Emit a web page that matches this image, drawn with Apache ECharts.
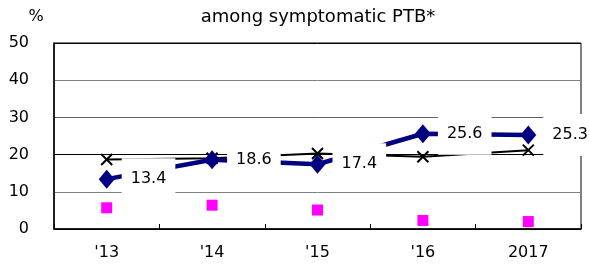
<!DOCTYPE html>
<html>
<head>
<meta charset="utf-8">
<script src="https://cdn.jsdelivr.net/npm/echarts@6/dist/echarts.min.js"></script>
<style>
  html, body { margin: 0; padding: 0; background: #fff; }
  #chart { width: 589px; height: 264px; }
</style>
</head>
<body>
<div id="chart"></div>
<script>
var years = ["'13", "'14", "'15", "'16", "2017"];
var diamondVals = [13.4, 18.6, 17.4, 25.6, 25.3];
var crossVals = [18.7, 19.0, 20.3, 19.4, 21.2];
var squareVals = [5.7, 6.4, 5.1, 2.3, 2.0];

var font = 'DejaVu Sans';
var chart = echarts.init(document.getElementById('chart'));

var option = {
    animation: false,
    backgroundColor: '#fff',
    textStyle: { fontFamily: font },
    grid: {
        left: 54, right: 8, top: 43, bottom: 35,
        show: true, borderColor: '#000', borderWidth: 1
    },
    graphic: [
        {
            type: 'text', x: 318, y: 17,
            style: { text: 'among symptomatic PTB*', font: '18px "DejaVu Sans"', fill: '#000', align: 'center', verticalAlign: 'middle' }
        },
        {
            type: 'text', x: 36, y: 17,
            style: { text: '%', font: '16px "DejaVu Sans"', fill: '#000', align: 'center', verticalAlign: 'middle' }
        }
    ],
    xAxis: {
        type: 'category',
        data: years,
        boundaryGap: true,
        axisLine: { lineStyle: { color: '#000', width: 1.5 } },
        axisTick: { show: true, inside: true, length: 5, lineStyle: { color: '#000' } },
        axisLabel: { color: '#000', fontSize: 16, margin: 16, fontFamily: font }
    },
    yAxis: {
        type: 'value',
        min: 0, max: 50, interval: 10,
        axisLine: { show: true, lineStyle: { color: '#000', width: 1.5 } },
        axisTick: { show: false },
        axisLabel: { color: '#000', fontSize: 16, margin: 25, fontFamily: font },
        splitLine: { lineStyle: { color: ['#000', '#808080', '#000', '#606060', '#808080', '#000'], width: 1 } }
    },
    series: [
        {
            name: 'cross',
            type: 'line',
            data: crossVals,
            z: 2,
            symbol: 'path://M0,0L10,10M10,0L0,10',
            symbolSize: 11,
            itemStyle: { color: 'none', borderColor: '#000', borderWidth: 2 },
            lineStyle: { color: '#000', width: 2 }
        },
        {
            name: 'square',
            type: 'scatter',
            data: squareVals,
            z: 2,
            symbol: 'rect',
            symbolSize: 11,
            itemStyle: { color: '#ff00ff', opacity: 1 }
        },
        {
            name: 'diamond',
            type: 'line',
            data: diamondVals,
            z: 3,
            symbol: 'diamond',
            symbolSize: [16, 19],
            itemStyle: { color: '#000080' },
            lineStyle: { color: '#000080', width: 4.5 },
            label: {
                show: true,
                position: 'right',
                distance: 7,
                color: '#000',
                fontSize: 16,
                lineHeight: 18,
                fontFamily: font,
                backgroundColor: '#fff',
                padding: [12, 9]
            }
        }
    ]
};
chart.setOption(option);
</script>
</body>
</html>
